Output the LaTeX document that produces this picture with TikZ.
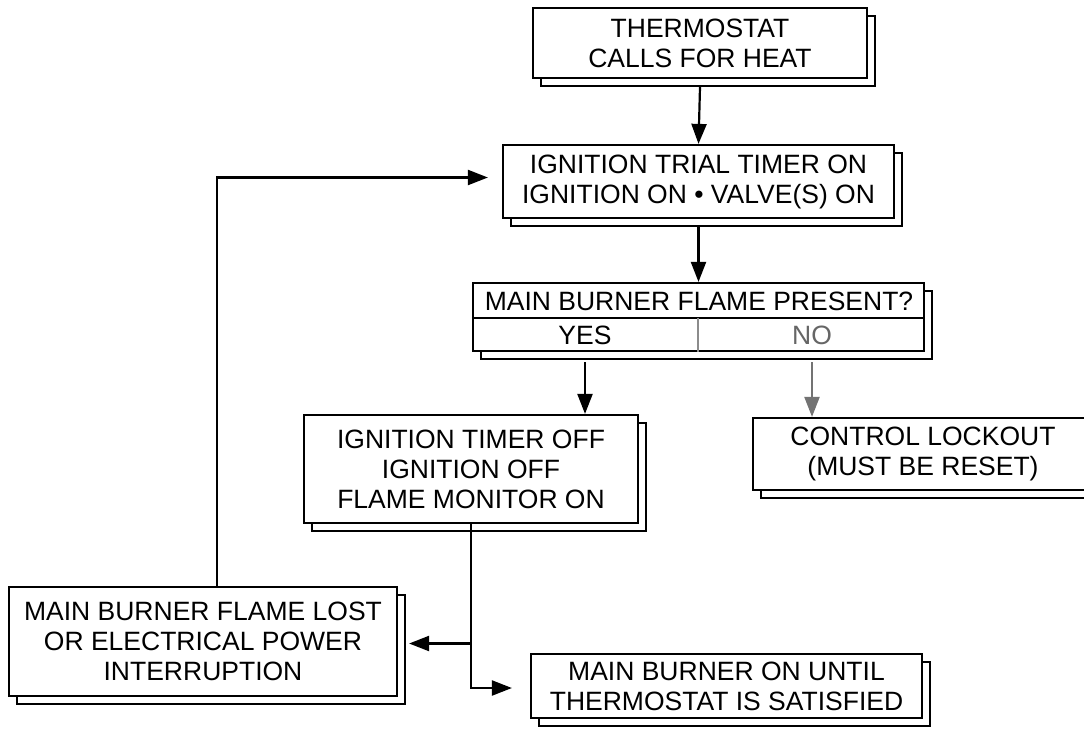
\documentclass[tikz,border=0pt]{standalone}
\usepackage{fontspec}
\setmainfont{Liberation Sans}
\usetikzlibrary{arrows.meta,shadows}

\begin{document}
\begin{tikzpicture}[x=1pt, y=-1pt,
        box/.style={draw, line width=2.2pt, fill=white, align=center, inner sep=0pt,
            font=\fontsize{26.5}{30}\selectfont,
            copy shadow={shadow xshift=8pt, shadow yshift=-8pt, draw=black, fill=white, line width=2.2pt}},
        lbl/.style={font=\fontsize{26.5}{30}\selectfont, inner sep=0pt},
        arr/.style={line width=2.2pt, -{Triangle[length=20pt,width=15pt]}}]
    \useasboundingbox (0,0) rectangle (1084,734);

    \node[box, minimum width=334pt, minimum height=70pt] (therm) at (700,43) {THERMOSTAT\\CALLS FOR HEAT};
    \node[box, minimum width=391pt, minimum height=73pt] (trial) at (698.5,181.5) {IGNITION TRIAL TIMER ON\\IGNITION ON • VALVE(S) ON};

    % decision box, split in three
    \node[box, minimum width=451pt, minimum height=68pt] (dec) at (698.5,317) {};
    \coordinate (split) at (698,318);
    \draw[line width=1.8pt] (dec.west |- split) -- (dec.east |- split);
    \draw[line width=1.2pt, black!45] (split) -- (split |- dec.south);
    \node[lbl] (ask) at (699,301) {MAIN BURNER FLAME PRESENT?};
    \node[lbl] (yes) at (585,335) {YES};
    \node[lbl, black!60] (no) at (812,335) {NO};

    \node[box, minimum width=334pt, minimum height=108pt] (timeroff) at (471,469) {IGNITION TIMER OFF\\IGNITION OFF\\FLAME MONITOR ON};
    \node[box, minimum width=340pt, minimum height=72pt] (lockout) at (923,454) {CONTROL LOCKOUT\\(MUST BE RESET)};
    \node[box, minimum width=388pt, minimum height=109pt] (lost) at (203,641.5) {MAIN BURNER FLAME LOST\\OR ELECTRICAL POWER\\INTERRUPTION};
    \node[box, minimum width=391pt, minimum height=64pt] (burneron) at (726.5,686) {MAIN BURNER ON UNTIL\\THERMOSTAT IS SATISFIED};

    \draw[arr] ([yshift=-8pt]therm.south) -- (trial.north);
    \draw[arr] ([yshift=-7pt]trial.south) -- (dec.north);
    \draw[arr] ([yshift=-10pt]yes.south |- dec.south) -- (yes.south |- timeroff.north);
    \draw[arr, black!55] ([yshift=-10pt]no.south |- dec.south) -- (no.south |- lockout.north);

    \coordinate (fork) at ([yshift=-2pt]timeroff.south |- lost.east);
    \draw[arr, shorten >=18pt] (timeroff.south) |- ([yshift=-2pt]burneron.west);
    \draw[arr] (fork) -- ([xshift=11pt]fork -| lost.east);
    \draw[arr, shorten >=14pt] ([xshift=14pt]lost.north) |- ([yshift=4pt]trial.west);
\end{tikzpicture}
\end{document}
